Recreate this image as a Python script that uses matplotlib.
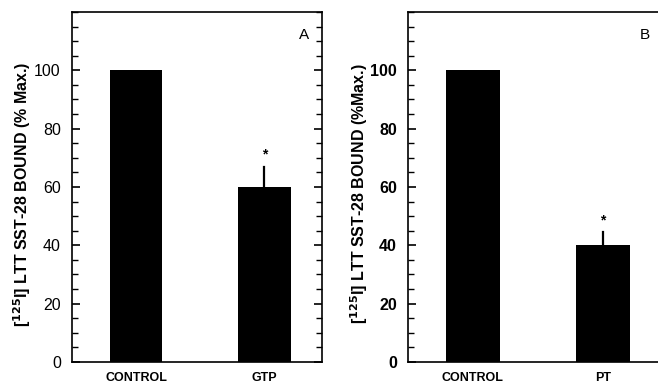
import matplotlib
matplotlib.use('Agg')
import matplotlib.pyplot as plt
from matplotlib.ticker import MultipleLocator

plt.rcParams['font.family'] = ['Liberation Sans', 'DejaVu Sans']

# Panel A data
cats_a = ['CONTROL', 'GTP']
vals_a = [100, 60]
err_a = [0, 7]
# Panel B data
cats_b = ['CONTROL', 'PT']
vals_b = [100, 40]
err_b = [0, 4.5]
star_offset = 4

fig = plt.figure(figsize=(6.58, 3.84), dpi=100)

def panel(ax, cats, vals, errs, letter, ylabel, tick_weight, xmax, labx):
    x = range(len(cats))
    ax.bar(x, vals, width=0.41, color='black', zorder=2)
    # upper error line only, no caps
    for xi, v, e in zip(x, vals, errs):
        if e > 0:
            ax.plot([xi, xi], [v, v + e], color='black', lw=1.6, zorder=1)
            ax.text(xi, v + e + star_offset, '*', ha='center', va='center',
                    fontsize=10, fontweight='bold')
    ax.set_xlim(-0.5, xmax)
    ax.set_ylim(0, 120)
    ax.set_xticks(list(x))
    ax.set_xticklabels(cats, fontsize=9, fontweight='bold')
    ax.set_yticks([0, 20, 40, 60, 80, 100])
    ax.yaxis.set_minor_locator(MultipleLocator(5))
    ax.tick_params(axis='x', length=0, pad=7)
    ax.tick_params(axis='y', which='major', direction='in', length=6,
                   width=1.2, right=True, labelsize=11.5, pad=8)
    ax.tick_params(axis='y', which='minor', direction='in', length=4,
                   width=1.0, right=True)
    for lbl in ax.get_yticklabels():
        lbl.set_fontweight(tick_weight)
    for s in ax.spines.values():
        s.set_linewidth(1.2)
    ax.text(0.93, 0.934, letter, transform=ax.transAxes, ha='center',
            va='center', fontsize=11)
    ax.set_ylabel(ylabel, fontsize=11.5, fontweight='bold')
    ax.yaxis.set_label_coords(labx, 0.48)

ax_a = fig.add_axes([0.1094, 0.0573, 0.38, 0.9115])
panel(ax_a, cats_a, vals_a, err_a, 'A',
      r'[$^{\mathbf{125}}$I] LTT SST-28 BOUND (% Max.)', 'normal',
      1.45, -0.156)

ax_b = fig.add_axes([0.62, 0.0573, 0.395, 0.9115])
panel(ax_b, cats_b, vals_b, err_b, 'B',
      r'[$^{\mathbf{125}}$I] LTT SST-28 BOUND (%Max.)', 'bold',
      1.5, -0.146)
ax_b.texts[-1].set_x(0.91)

fig.savefig('out.png', dpi=100)
